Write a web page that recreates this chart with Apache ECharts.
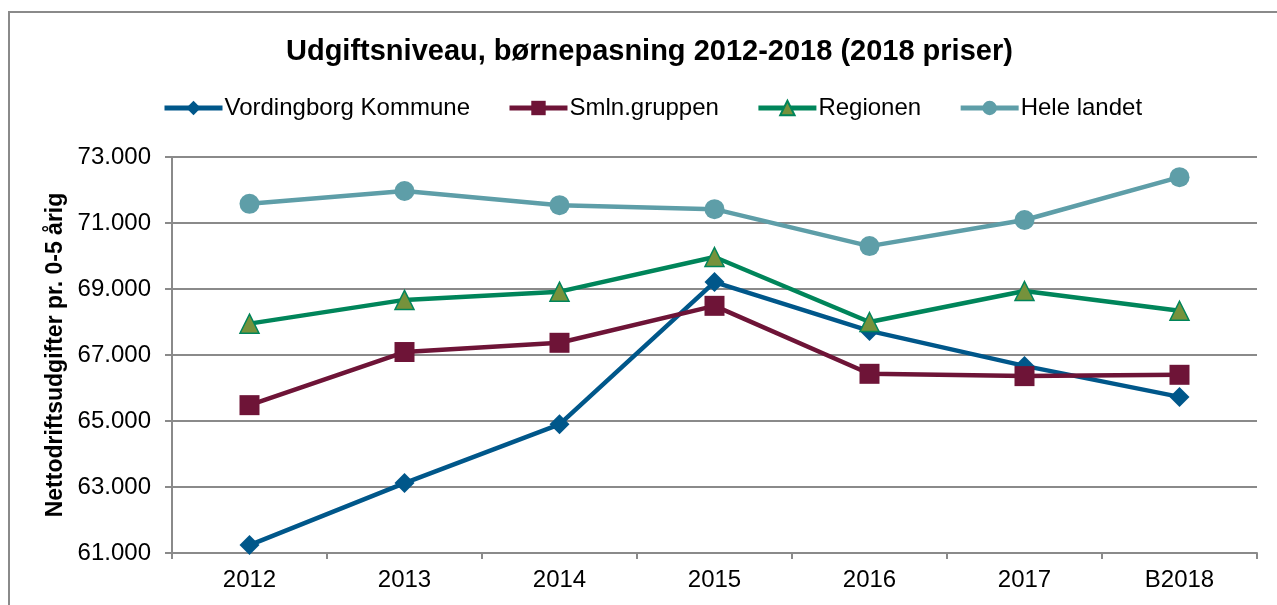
<!DOCTYPE html>
<html><head><meta charset="utf-8">
<script src="https://cdn.jsdelivr.net/npm/echarts@6/dist/echarts.min.js"></script>
<style>html,body{margin:0;padding:0;background:#fff}#c{width:1277px;height:605px}</style>
</head><body><div id="c"></div>
<script>
var categories = ['2012','2013','2014','2015','2016','2017','B2018'];
var vordingborg = [61240, 63120, 64900, 69210, 67730, 66670, 65730];
var smln = [65480, 67090, 67370, 68490, 66430, 66360, 66400];
var regionen = [67950, 68670, 68920, 69970, 68000, 68940, 68340];
var heleLandet = [71580, 71970, 71540, 71420, 70300, 71090, 72390];
var yTicks = { min: 61000, max: 73000, interval: 2000 };

var chart = echarts.init(document.getElementById('c'));
var font = '"Liberation Sans", Arial, sans-serif';
function fmt(v){ return String(v).replace(/\B(?=(\d{3})+(?!\d))/g, '.'); }
function ser(name, data, color, symbol, size, fill, border) {
  return {
    name: name, type: 'line', data: data, symbol: symbol, symbolSize: size,
    lineStyle: { color: color, width: 4.5 },
    itemStyle: { color: fill || color, borderColor: border || fill || color, borderWidth: border ? 1.5 : 0 },
    emphasis: { disabled: true }, z: 3
  };
}
chart.setOption({
  animation: false,
  backgroundColor: '#fff',
  graphic: [{ type: 'rect', shape: { x: 9, y: 12, width: 1300, height: 620 },
    style: { fill: 'none', stroke: '#8a8a8a', lineWidth: 2 }, silent: true }],
  title: { text: 'Udgiftsniveau, børnepasning 2012-2018 (2018 priser)', left: 281, top: 32,
    textStyle: { fontFamily: font, fontSize: 29, fontWeight: 'bold', color: '#000' } },
  legend: { left: 157, top: 91, itemWidth: 58, itemHeight: 18, itemGap: 37,
    lineStyle: { width: 5 },
    textStyle: { fontFamily: font, fontSize: 24, color: '#000', padding: [0,0,0,-3] },
    data: ['Vordingborg Kommune','Smln.gruppen','Regionen','Hele landet'] },
  grid: { left: 172, right: 20, top: 157, bottom: 52, containLabel: false },
  xAxis: { type: 'category', data: categories, boundaryGap: true,
    axisLine: { lineStyle: { color: '#8a8a8a', width: 2 } },
    axisTick: { show: true, length: 6, inside: false, lineStyle: { color: '#8a8a8a', width: 2 } },
    axisLabel: { fontFamily: font, fontSize: 24, color: '#000', margin: 15 } },
  yAxis: { type: 'value', min: yTicks.min, max: yTicks.max, interval: yTicks.interval,
    name: 'Nettodriftsudgifter pr. 0-5 årig', nameLocation: 'middle', nameGap: 103, nameRotate: 90,
    nameTextStyle: { fontFamily: font, fontSize: 23, fontWeight: 'bold', color: '#000' },
    axisLine: { show: true, lineStyle: { color: '#8a8a8a', width: 2 } },
    axisTick: { show: true, length: 7, lineStyle: { color: '#8a8a8a', width: 2 } },
    splitLine: { lineStyle: { color: '#8a8a8a', width: 2 } },
    axisLabel: { fontFamily: font, fontSize: 24, color: '#000', margin: 21, formatter: fmt } },
  series: [
    ser('Vordingborg Kommune', vordingborg, '#00578A', 'diamond', 20),
    ser('Smln.gruppen', smln, '#6E1437', 'rect', 20),
    ser('Regionen', regionen, '#00855A', 'triangle', 19, '#76923C', '#00855A'),
    ser('Hele landet', heleLandet, '#5E9EA8', 'circle', 20)
  ]
});
</script></body></html>
